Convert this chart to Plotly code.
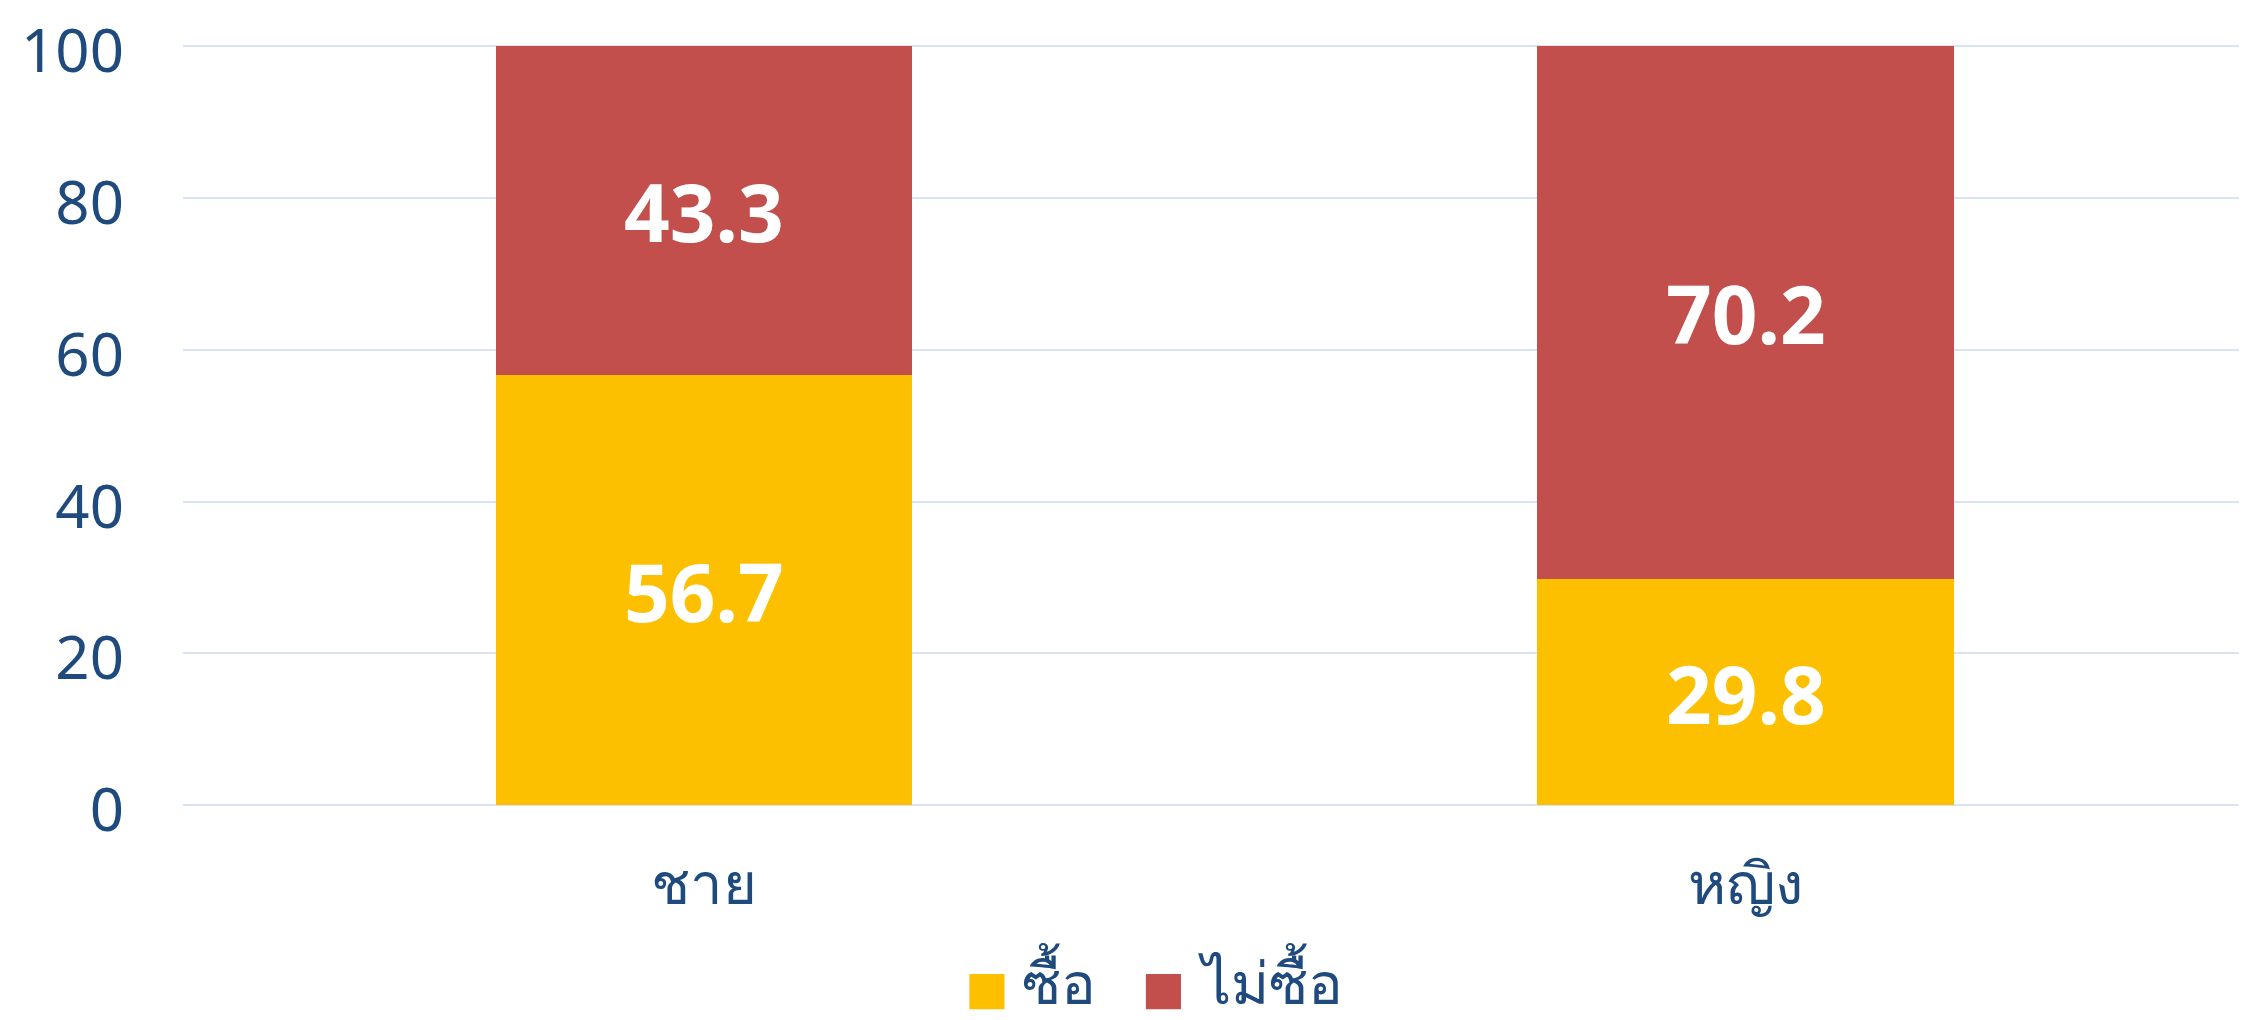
import plotly.graph_objects as go

FONT = 'Noto Sans, DejaVu Sans, sans-serif'
TEXT_COLOR = '#1F4A7E'
GRID_COLOR = '#D9E3F1'

categories = ['ชาย', 'หญิง']
series_names = ['ซื้อ', 'ไม่ซื้อ']
buy = [56.7, 29.8]
not_buy = [43.3, 70.2]
series_colors = ['#FDC000', '#C24F4B']

fig = go.Figure()
for name, values, color in zip(series_names, [buy, not_buy], series_colors):
    fig.add_trace(go.Bar(
        x=categories,
        y=values,
        name=name,
        width=0.4,
        marker_color=color,
        marker_line_width=0,
        text=[f'{v:.1f}' for v in values],
        textposition='inside',
        insidetextanchor='middle',
        textfont=dict(family=FONT, size=80, color='white', weight='bold'),
        showlegend=False,
    ))

# legend drawn by hand so the swatches can be as large as in the original
legend_x = [0.381, 0.4665]
for name, color, x0 in zip(series_names, series_colors, legend_x):
    fig.add_shape(
        type='rect', xref='paper', yref='paper',
        x0=x0, x1=x0 + 0.017, y0=-0.265, y1=-0.219,
        fillcolor=color, line_width=0,
    )
    fig.add_annotation(
        xref='paper', yref='paper', x=x0 + 0.0245, y=-0.229,
        xanchor='left', yanchor='middle', showarrow=False,
        text=name, font=dict(family=FONT, size=58, color=TEXT_COLOR),
    )

# page body has an 8px margin, so the figure is sized to fit inside the window
fig.update_layout(
    barmode='stack',
    width=2239,
    height=1012,
    margin=dict(l=175, r=0, t=36, b=213),
    plot_bgcolor='white',
    paper_bgcolor='white',
)
fig.update_yaxes(
    range=[-0.2, 100.2],
    tickvals=[0, 20, 40, 60, 80, 100],
    showgrid=True,
    gridcolor=GRID_COLOR,
    gridwidth=2,
    zeroline=False,
    showline=False,
    automargin=False,
    ticklabeloverflow='allow',
    ticklabelstandoff=58,
    ticklabelshift=5,
    tickfont=dict(family=FONT, size=60, color=TEXT_COLOR),
)
fig.update_xaxes(
    range=[-0.5, 1.481],
    showgrid=False,
    showline=False,
    automargin=False,
    ticklabelstandoff=38,
    tickfont=dict(family=FONT, size=58, color=TEXT_COLOR),
)

fig.write_html('out.html')
